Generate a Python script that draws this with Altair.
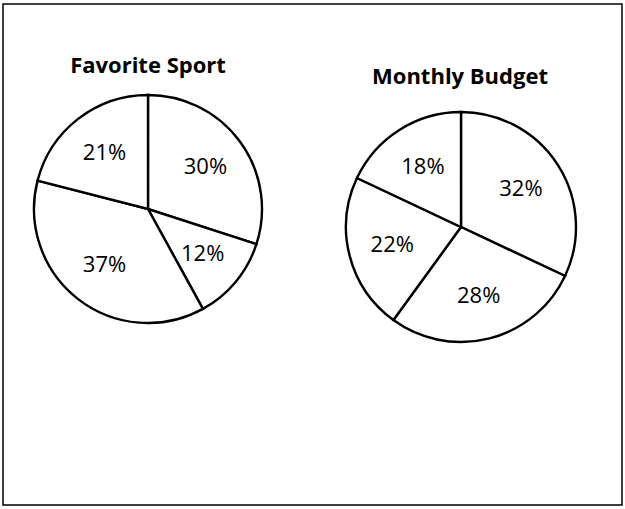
import altair as alt
import pandas as pd

# Data
sport_labels = ["30%", "12%", "37%", "21%"]
sport_values = [30, 12, 37, 21]
budget_labels = ["32%", "28%", "22%", "18%"]
budget_values = [32, 28, 22, 18]
titles = ["Favorite Sport", "Monthly Budget"]

FONT = "Open Sans"
W, H = 619, 501

def pie(values, labels, cx, cy, r):
    df = pd.DataFrame({"value": values, "label": labels, "idx": list(range(len(values)))})
    base = alt.Chart(df).encode(
        theta=alt.Theta("value:Q", stack=True),
        order=alt.Order("idx:Q"),
    )
    arcs = base.mark_arc(
        outerRadius=r, stroke="black", strokeWidth=2.4, fill="white"
    ).encode(x=alt.value(cx), y=alt.value(cy))
    text = base.mark_text(
        radius=71, font=FONT, fontSize=22, color="black"
    ).encode(x=alt.value(cx), y=alt.value(cy), text="label:N")
    return arcs, text

def title(t, cx, y):
    df = pd.DataFrame({"t": [t]})
    return alt.Chart(df).mark_text(
        font=FONT, fontSize=22, fontWeight="bold", color="black", baseline="alphabetic", align="center"
    ).encode(x=alt.value(cx), y=alt.value(y), text="t:N")

a1, t1 = pie(sport_values, sport_labels, 145, 205, 114)
a2, t2 = pie(budget_values, budget_labels, 458, 223, 115)
h1 = title(titles[0], 145, 69)
h2 = title(titles[1], 457, 80)

chart = alt.layer(a1, t1, a2, t2, h1, h2).resolve_scale(theta="independent").properties(
    width=W, height=H,
    autosize=alt.AutoSizeParams(type="none"),
    padding={"left": 3, "top": 4, "right": 3, "bottom": 4},
    background="white",
).configure_view(stroke="black", strokeWidth=1.5)

chart.save("out.html", embed_options={"renderer": "svg", "actions": False})
